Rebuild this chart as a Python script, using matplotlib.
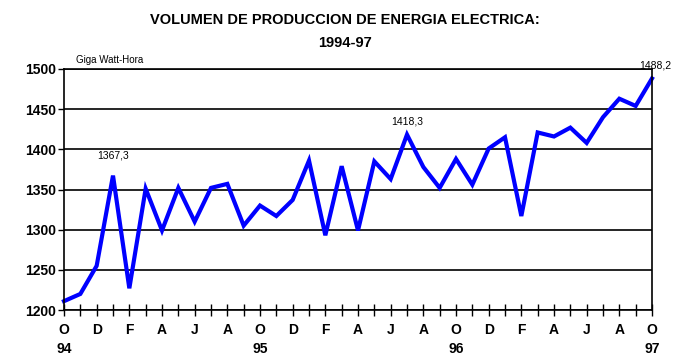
import matplotlib.pyplot as plt
import numpy as np

plt.rcParams['font.family'] = ['Liberation Sans Narrow', 'Liberation Sans', 'DejaVu Sans']

months = ["O", "N", "D", "E", "F", "M", "A", "M", "J", "J", "A", "S"] * 3 + ["O"]
values = [1211, 1220, 1255, 1367.3, 1227, 1351, 1299, 1352, 1310, 1352, 1357, 1305,
          1330, 1317, 1337, 1386, 1293, 1379, 1299, 1385, 1363, 1418.3, 1378, 1352,
          1388, 1356, 1401, 1415, 1317, 1421, 1416, 1427, 1408, 1440, 1463, 1454,
          1488.2]
years = {0: "94", 12: "95", 24: "96", 36: "97"}
labeled = {3: "1367,3", 21: "1418,3", 36: "1488,2"}
label_offset = {3: (0, 12.5), 21: (0, 7.5), 36: (2, 7.5)}

x = np.arange(len(values))

fig = plt.figure(figsize=(6.83, 3.62), dpi=100)
ax = fig.add_axes([64 / 683, 1 - 310 / 362, 588 / 683, 241 / 362])

ax.plot(x, values, color="#0000ff", linewidth=3.0, solid_joinstyle="miter", clip_on=False)

ax.set_xlim(0, 36)
ax.set_ylim(1200, 1500)
ax.set_yticks(np.arange(1200, 1501, 50))
ax.yaxis.grid(True, color="black", linewidth=1.2)
ax.set_axisbelow(True)

ax.set_xticks(x)
ticklabels = []
for i in x:
    if i % 2 == 0:
        lab = months[i]
        lab += "\n" + years[i] if i in years else "\n "
    else:
        lab = ""
    ticklabels.append(lab)
ax.set_xticklabels(ticklabels, fontweight="bold", fontsize=10, linespacing=1.5)
ax.tick_params(axis="x", direction="inout", length=8, width=1, pad=5)
ax.tick_params(axis="y", direction="out", length=4, width=1, pad=2, labelsize=10)
for t in ax.get_yticklabels():
    t.set_fontweight("bold")

for s in ax.spines.values():
    s.set_linewidth(1.2)

for i, txt in labeled.items():
    ax.annotate(txt, (i, values[i]), xytext=label_offset[i],
                textcoords="offset points", ha="center", fontsize=7.5,
                family=["Liberation Sans", "DejaVu Sans"])

fig.text(76 / 683, 1 - 60 / 362, "Giga Watt-Hora", fontsize=7,
         family=["Liberation Sans", "DejaVu Sans"], va="center")
fig.text(345 / 683, 1 - 20 / 362, "VOLUMEN DE PRODUCCION DE ENERGIA ELECTRICA:",
         fontsize=10.5, fontweight="bold", ha="center", va="center",
         family=["Liberation Sans", "DejaVu Sans"])
fig.text(345 / 683, 1 - 43 / 362, "1994-97", fontsize=10.5, fontweight="bold",
         ha="center", va="center", family=["Liberation Sans", "DejaVu Sans"])

fig.savefig("out.png", dpi=100)
